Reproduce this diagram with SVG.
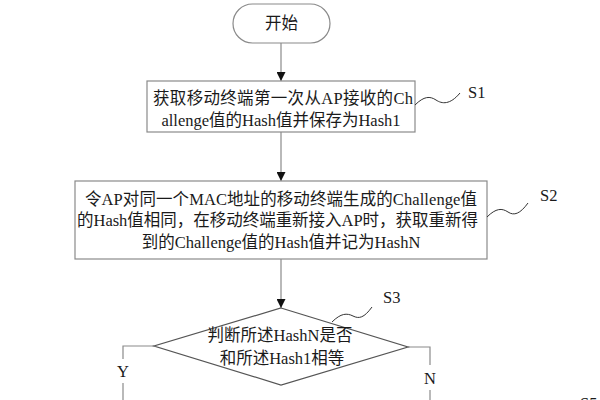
<svg xmlns="http://www.w3.org/2000/svg" width="600" height="400" viewBox="0 0 600 400">
<style>
.box{fill:#fff;stroke:#8a8a8a;stroke-width:1.2}
.dia{fill:#fff;stroke:#555;stroke-width:1.2}
.t{font-family:"Liberation Serif","Noto Sans CJK SC",serif;font-size:16.5px;fill:#1a1a1a}
.c{text-anchor:middle}
.edge{stroke:#8a8a8a;stroke-width:1.2;fill:none}
.wave{stroke:#333;stroke-width:1;fill:none}
</style>
<defs>
<marker id="ah" viewBox="0 0 10 10" refX="10" refY="5" markerWidth="9" markerHeight="9" markerUnits="userSpaceOnUse" orient="auto">
<path d="M0,0 L10,5 L0,10 z" fill="#111"/>
</marker>
</defs>
<g id="connectors">
<line class="edge" x1="281" y1="43" x2="281" y2="81" marker-end="url(#ah)"/>
<line class="edge" x1="281" y1="132" x2="281" y2="181" marker-end="url(#ah)"/>
<line class="edge" x1="281" y1="259" x2="281" y2="308" marker-end="url(#ah)"/>
<polyline class="edge" points="154,346 123,346 123,359"/>
<line class="edge" x1="123" y1="383" x2="123" y2="400"/>
<text class="t c" x="123" y="377">Y</text>
<polyline class="edge" points="408,347 430,347 430,365"/>
<line class="edge" x1="430" y1="390" x2="430" y2="400"/>
<text class="t c" x="430" y="384">N</text>
</g>
<g id="start">
<rect class="box" x="233" y="4" width="97" height="39" rx="19.5"/>
<text class="t c" x="281.5" y="29">开始</text>
</g>
<g id="s1">
<rect class="box" x="147" y="81" width="268" height="51"/>
<text class="t" x="153" y="104" textLength="260" lengthAdjust="spacing">获取移动终端第一次从AP接收的Ch</text>
<text class="t c" x="281" y="126">allenge值的Hash值并保存为Hash1</text>
<path class="wave" d="M415,105 C424,96 430,96 436,100 S450,105 460,93"/>
<text class="t" x="468" y="98">S1</text>
</g>
<g id="s2">
<rect class="box" x="75" y="181" width="412" height="78"/>
<text class="t" x="85" y="205" textLength="392" lengthAdjust="spacing">令AP对同一个MAC地址的移动终端生成的Challenge值</text>
<text class="t" x="77" y="226" textLength="401" lengthAdjust="spacing">的Hash值相同，在移动终端重新接入AP时，获取重新得</text>
<text class="t c" x="281" y="248">到的Challenge值的Hash值并记为HashN</text>
<path class="wave" d="M487,217 C496,208 502,208 508,212 S520,214 528,203"/>
<text class="t" x="540" y="201">S2</text>
</g>
<g id="s3">
<polygon class="dia" points="281,308 408,347 281,385 154,346"/>
<text class="t c" x="280" y="341">判断所述HashN是否</text>
<text class="t c" x="282" y="364">和所述Hash1相等</text>
<path class="wave" d="M332,322 C341,313 347,313 353,316 S364,318 372,307"/>
<text class="t" x="383" y="303">S3</text>
</g>
<g id="s5">
<text class="t" x="580" y="409">S5</text>
</g>
</svg>
